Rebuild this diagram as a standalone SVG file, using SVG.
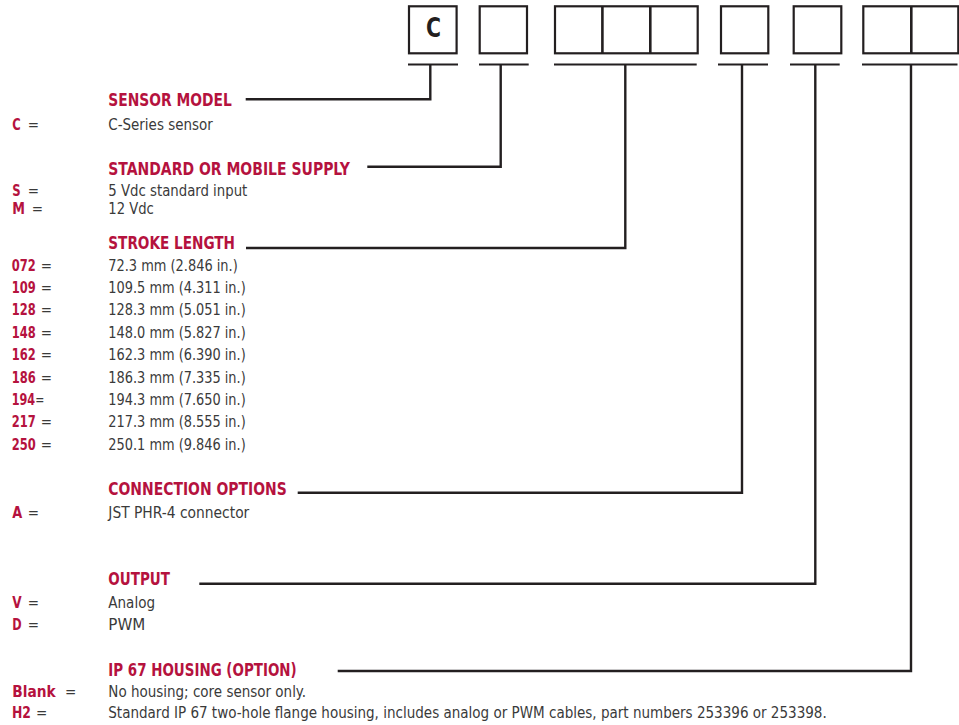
<svg xmlns="http://www.w3.org/2000/svg" width="959" height="725" viewBox="0 0 959 725">
<style>
  .box { fill: #fff; stroke: #231f20; stroke-width: 2.2; }
  .div { stroke: #231f20; stroke-width: 2.6; fill: none; }
  .bar { stroke: #231f20; stroke-width: 2.2; fill: none; }
  .conn { stroke: #231f20; stroke-width: 2.4; fill: none; stroke-linejoin: miter; stroke-linecap: butt; }
  text { font-family: "Liberation Sans Narrow", "DejaVu Sans Condensed", "Liberation Sans", sans-serif; }
  .hdr { font-size: 18.5px; font-weight: bold; fill: #b5123e; }
  .code { font-size: 16.5px; font-weight: bold; fill: #b5123e; }
  .num { font-size: 15.5px; font-weight: bold; fill: #b5123e; }
  .eq { font-size: 15px; font-weight: normal; fill: #3a3a3a; }
  .val { font-size: 16px; fill: #3a3a3a; }
  .big { font-size: 27px; font-weight: bold; fill: #231f20; }
</style>
<rect width="959" height="725" fill="#fff"/>

<g id="code-boxes">
  <g id="box-model">
    <rect class="box" x="409" y="6.3" width="47.6" height="47"/>
    <text class="big" x="433.5" y="36.7" text-anchor="middle" textLength="15" lengthAdjust="spacingAndGlyphs">C</text>
  </g>
  <g id="box-supply">
    <rect class="box" x="479.7" y="6.3" width="47.3" height="47"/>
  </g>
  <g id="box-stroke">
    <rect class="box" x="555" y="6.3" width="142.7" height="47"/>
    <line class="div" x1="602.4" y1="6.3" x2="602.4" y2="53.3"/>
    <line class="div" x1="650.3" y1="6.3" x2="650.3" y2="53.3"/>
  </g>
  <g id="box-connection">
    <rect class="box" x="721" y="6.3" width="47.3" height="47"/>
  </g>
  <g id="box-output">
    <rect class="box" x="793.7" y="6.3" width="47.6" height="47"/>
  </g>
  <g id="box-housing">
    <rect class="box" x="863.3" y="6.3" width="95" height="47"/>
    <line class="div" x1="911.3" y1="6.3" x2="911.3" y2="53.3"/>
  </g>
</g>

<g id="connectors">
  <line class="bar" x1="408" y1="64.5" x2="458" y2="64.5"/>
  <line class="bar" x1="479" y1="64.5" x2="528.7" y2="64.5"/>
  <line class="bar" x1="554" y1="64.5" x2="696.7" y2="64.5"/>
  <line class="bar" x1="718" y1="64.5" x2="768" y2="64.5"/>
  <line class="bar" x1="790" y1="64.5" x2="839.7" y2="64.5"/>
  <line class="bar" x1="862" y1="64.5" x2="957.5" y2="64.5"/>
  <path class="conn" d="M430.3 64.5 V99.3 H245.7"/>
  <path class="conn" d="M500.7 64.5 V166.7 H367.3"/>
  <path class="conn" d="M625.3 64.5 V248 H246"/>
  <path class="conn" d="M742 64.5 V492.7 H297.7"/>
  <path class="conn" d="M815.3 64.5 V583.7 H199.3"/>
  <path class="conn" d="M911 64.5 V671 H337.7"/>
</g>

<g id="sensor-model">
  <text class="hdr" x="108.3" y="105.7" textLength="123.4" lengthAdjust="spacingAndGlyphs">SENSOR MODEL</text>
  <text class="code" x="12.3" y="130" textLength="8.4" lengthAdjust="spacingAndGlyphs">C</text>
  <text class="eq" x="27.7" y="130">=</text>
  <text class="val" x="108.3" y="130" textLength="104.4" lengthAdjust="spacingAndGlyphs">C-Series sensor</text>
</g>

<g id="supply">
  <text class="hdr" x="108.3" y="175" textLength="241.7" lengthAdjust="spacingAndGlyphs">STANDARD OR MOBILE SUPPLY</text>
  <text class="code" x="12.3" y="196" textLength="8.4" lengthAdjust="spacingAndGlyphs">S</text>
  <text class="eq" x="27.7" y="196">=</text>
  <text class="val" x="108.3" y="196" textLength="139" lengthAdjust="spacingAndGlyphs">5 Vdc standard input</text>
  <text class="code" x="12.3" y="213.5" textLength="12.7" lengthAdjust="spacingAndGlyphs">M</text>
  <text class="eq" x="31.7" y="213.5">=</text>
  <text class="val" x="108.3" y="213.5" textLength="45.5" lengthAdjust="spacingAndGlyphs">12 Vdc</text>
</g>

<g id="stroke-length">
  <text class="hdr" x="108.3" y="249" textLength="126.7" lengthAdjust="spacingAndGlyphs">STROKE LENGTH</text>
  <text class="num" x="11.7" y="270.6" textLength="24" lengthAdjust="spacingAndGlyphs">072</text>
  <text class="eq" x="40.7" y="270.6">=</text>
  <text class="val" x="108.3" y="270.6" textLength="129.4" lengthAdjust="spacingAndGlyphs">72.3 mm (2.846 in.)</text>
  <text class="num" x="11.7" y="293" textLength="24" lengthAdjust="spacingAndGlyphs">109</text>
  <text class="eq" x="40.7" y="293">=</text>
  <text class="val" x="108.3" y="293" textLength="137.4" lengthAdjust="spacingAndGlyphs">109.5 mm (4.311 in.)</text>
  <text class="num" x="11.7" y="315.4" textLength="24" lengthAdjust="spacingAndGlyphs">128</text>
  <text class="eq" x="40.7" y="315.4">=</text>
  <text class="val" x="108.3" y="315.4" textLength="137.4" lengthAdjust="spacingAndGlyphs">128.3 mm (5.051 in.)</text>
  <text class="num" x="11.7" y="337.8" textLength="24" lengthAdjust="spacingAndGlyphs">148</text>
  <text class="eq" x="40.7" y="337.8">=</text>
  <text class="val" x="108.3" y="337.8" textLength="137.4" lengthAdjust="spacingAndGlyphs">148.0 mm (5.827 in.)</text>
  <text class="num" x="11.7" y="360.2" textLength="24" lengthAdjust="spacingAndGlyphs">162</text>
  <text class="eq" x="40.7" y="360.2">=</text>
  <text class="val" x="108.3" y="360.2" textLength="137.4" lengthAdjust="spacingAndGlyphs">162.3 mm (6.390 in.)</text>
  <text class="num" x="11.7" y="382.6" textLength="24" lengthAdjust="spacingAndGlyphs">186</text>
  <text class="eq" x="40.7" y="382.6">=</text>
  <text class="val" x="108.3" y="382.6" textLength="137.4" lengthAdjust="spacingAndGlyphs">186.3 mm (7.335 in.)</text>
  <text x="11.7" y="405" textLength="32.6" lengthAdjust="spacingAndGlyphs"><tspan class="num">194</tspan><tspan class="eq">=</tspan></text>
  <text class="val" x="108.3" y="405" textLength="137.4" lengthAdjust="spacingAndGlyphs">194.3 mm (7.650 in.)</text>
  <text class="num" x="11.7" y="427.4" textLength="24" lengthAdjust="spacingAndGlyphs">217</text>
  <text class="eq" x="40.7" y="427.4">=</text>
  <text class="val" x="108.3" y="427.4" textLength="137.4" lengthAdjust="spacingAndGlyphs">217.3 mm (8.555 in.)</text>
  <text class="num" x="11.7" y="449.8" textLength="24" lengthAdjust="spacingAndGlyphs">250</text>
  <text class="eq" x="40.7" y="449.8">=</text>
  <text class="val" x="108.3" y="449.8" textLength="137.4" lengthAdjust="spacingAndGlyphs">250.1 mm (9.846 in.)</text>
</g>

<g id="connection-options">
  <text class="hdr" x="108.3" y="495" textLength="178.4" lengthAdjust="spacingAndGlyphs">CONNECTION OPTIONS</text>
  <text class="code" x="12.3" y="518.3" textLength="10" lengthAdjust="spacingAndGlyphs">A</text>
  <text class="eq" x="27.7" y="518.3">=</text>
  <text class="val" x="108.3" y="518.3" textLength="141" lengthAdjust="spacingAndGlyphs">JST PHR-4 connector</text>
</g>

<g id="output">
  <text class="hdr" x="108.3" y="585" textLength="61.7" lengthAdjust="spacingAndGlyphs">OUTPUT</text>
  <text class="code" x="12.3" y="607.7" textLength="9.4" lengthAdjust="spacingAndGlyphs">V</text>
  <text class="eq" x="27.7" y="607.7">=</text>
  <text class="val" x="108.3" y="607.7" textLength="46.7" lengthAdjust="spacingAndGlyphs">Analog</text>
  <text class="code" x="12.3" y="630" textLength="9.4" lengthAdjust="spacingAndGlyphs">D</text>
  <text class="eq" x="27.7" y="630">=</text>
  <text class="val" x="108.3" y="630" textLength="37" lengthAdjust="spacingAndGlyphs">PWM</text>
</g>

<g id="housing">
  <text class="hdr" x="108.3" y="675.7" textLength="188.4" lengthAdjust="spacingAndGlyphs">IP 67 HOUSING (OPTION)</text>
  <text class="code" x="12.3" y="696.7" textLength="43.4" lengthAdjust="spacingAndGlyphs">Blank</text>
  <text class="eq" x="65" y="696.7">=</text>
  <text class="val" x="108.3" y="696.7" textLength="197.7" lengthAdjust="spacingAndGlyphs">No housing; core sensor only.</text>
  <text class="code" x="12" y="718.3" textLength="19" lengthAdjust="spacingAndGlyphs">H2</text>
  <text class="eq" x="36" y="718.3">=</text>
  <text class="val" x="108.3" y="718.3" textLength="718.4" lengthAdjust="spacingAndGlyphs">Standard IP 67 two-hole flange housing, includes analog or PWM cables, part numbers 253396 or 253398.</text>
</g>
</svg>
